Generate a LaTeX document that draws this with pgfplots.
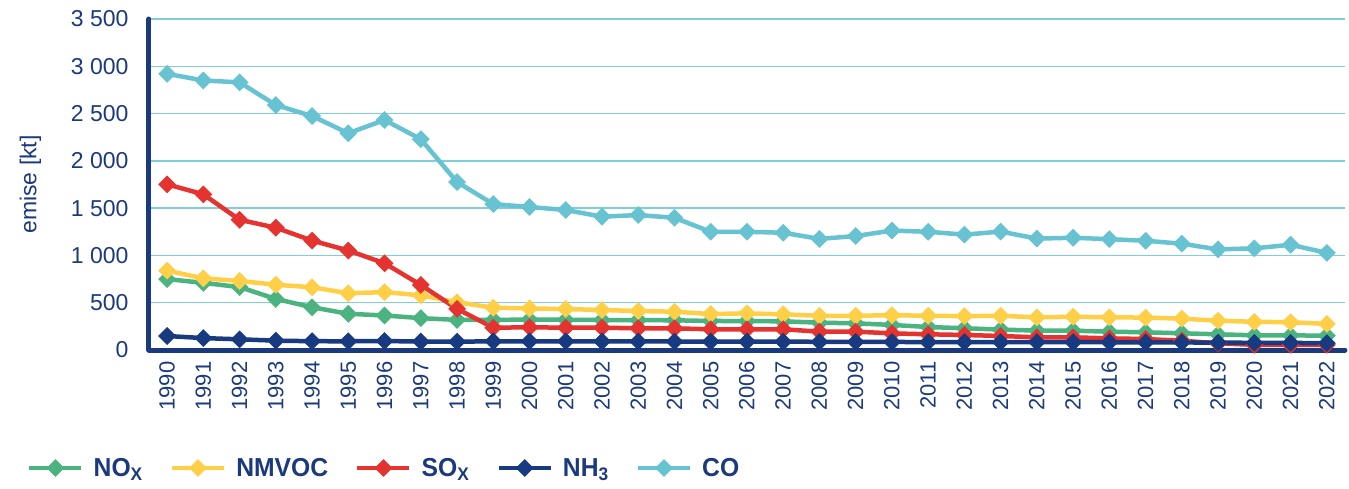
\documentclass[border=0pt]{standalone}
\usepackage{fontspec}
\setmainfont{Liberation Sans}
\newfontfamily\legfont[FakeStretch=0.95]{Liberation Sans}
\usepackage{pgfplots}
\pgfplotsset{compat=1.18}
\definecolor{axblue}{HTML}{1B3A7E}
\definecolor{gridc}{HTML}{7FCFD9}
\definecolor{cnox}{HTML}{4BB37F}
\definecolor{cnmvoc}{HTML}{FFCF48}
\definecolor{csox}{HTML}{E5332F}
\definecolor{cnh3}{HTML}{173A80}
\definecolor{cco}{HTML}{67C3D1}
\begin{document}
\begin{tikzpicture}
\begin{axis}[
 name=ax,
 scale only axis, width=1196pt, height=331pt,
 xmin=1989.5, xmax=2022.5, ymin=0, ymax=3500,
 xtick={1990,...,2022}, ytick={0,500,...,3500},
 axis x line*=bottom, axis y line*=left,
 axis line style={line width=5pt, color=axblue, line cap=round, -},
 ymajorgrids, grid style={gridc, line width=1.3pt},
 major tick length=0pt,
 tick label style={color=axblue},
 /pgf/number format/assume math mode=true,
 yticklabel style={font=\fontsize{23}{27}\selectfont, /pgf/number format/1000 sep={\ }},
 xticklabel style={font=\fontsize{22}{26}\selectfont, rotate=90, anchor=east, /pgf/number format/1000 sep={}},
 yticklabel shift=17pt,
 xticklabel shift=8pt,
 ylabel={emise [kt]}, ylabel style={font=\fontsize{23}{27}\selectfont, color=axblue},
 ylabel shift=23pt,
 clip=false,
 every axis plot/.append style={line width=4.5pt, mark=square*, mark size=5.8pt, mark options={rotate=45, solid, line width=1pt}},
 legend columns=5,
 legend style={draw=none, fill=none, at={(rel axis cs:0,0)}, anchor=west, xshift=-122pt, yshift=-118pt,
   font=\fontsize{26}{30}\legfont\bfseries, text=axblue, inner sep=0pt,
   /tikz/every even column/.append style={column sep=25pt}},
 legend image code/.code={\draw[mark repeat=2, mark phase=2] plot coordinates {(0pt,0pt) (26pt,0pt) (52pt,0pt)}; \path (60pt,0pt);},
]
\addplot[color=cnox] coordinates {
(1990,750) (1991,710) (1992,665) (1993,540) (1994,452) (1995,383) (1996,365) (1997,337) (1998,318) (1999,318)
(2000,322) (2001,320) (2002,317) (2003,316) (2004,314) (2005,307) (2006,306) (2007,303) (2008,289) (2009,282)
(2010,265) (2011,243) (2012,230) (2013,216) (2014,205) (2015,204) (2016,194) (2017,187) (2018,177) (2019,166)
(2020,155) (2021,155) (2022,151)};
\addlegendentry{NO\textsubscript{X}}
\addplot[color=cnmvoc] coordinates {
(1990,839) (1991,758) (1992,730) (1993,690) (1994,663) (1995,600) (1996,612) (1997,578) (1998,505) (1999,447)
(2000,440) (2001,433) (2002,423) (2003,412) (2004,405) (2005,380) (2006,388) (2007,377) (2008,362) (2009,362)
(2010,368) (2011,362) (2012,358) (2013,362) (2014,345) (2015,352) (2016,345) (2017,343) (2018,331) (2019,310)
(2020,298) (2021,294) (2022,276)};
\addlegendentry{NMVOC}
\addplot[color=csox] coordinates {
(1990,1752) (1991,1646) (1992,1377) (1993,1293) (1994,1157) (1995,1052) (1996,917) (1997,688) (1998,435) (1999,236)
(2000,240) (2001,236) (2002,236) (2003,229) (2004,229) (2005,219) (2006,219) (2007,219) (2008,194) (2009,194)
(2010,176) (2011,166) (2012,159) (2013,148) (2014,134) (2015,134) (2016,123) (2017,116) (2018,98) (2019,70)
(2020,55) (2021,55) (2022,55)};
\addlegendentry{SO\textsubscript{X}}
\addplot[color=cnh3] coordinates {
(1990,148) (1991,126) (1992,113) (1993,99) (1994,93) (1995,92) (1996,95) (1997,89) (1998,88) (1999,92)
(2000,92) (2001,92) (2002,91) (2003,90) (2004,90) (2005,89) (2006,89) (2007,88) (2008,87) (2009,86)
(2010,85) (2011,84) (2012,84) (2013,83) (2014,83) (2015,82) (2016,82) (2017,81) (2018,80) (2019,78)
(2020,76) (2021,75) (2022,72)};
\addlegendentry{NH\textsubscript{3}}
\addplot[color=cco] coordinates {
(1990,2920) (1991,2850) (1992,2830) (1993,2590) (1994,2474) (1995,2292) (1996,2432) (1997,2229) (1998,1776) (1999,1543)
(2000,1512) (2001,1480) (2002,1410) (2003,1427) (2004,1398) (2005,1250) (2006,1250) (2007,1240) (2008,1175) (2009,1205)
(2010,1263) (2011,1250) (2012,1220) (2013,1252) (2014,1178) (2015,1187) (2016,1172) (2017,1155) (2018,1124) (2019,1064)
(2020,1075) (2021,1113) (2022,1027)};
\addlegendentry{CO}
\end{axis}
\pgfresetboundingbox
\path[use as bounding box] ([shift={(-149pt,-138pt)}]ax.south west) rectangle ([shift={(1200pt,350pt)}]ax.south west);
\end{tikzpicture}
\end{document}
